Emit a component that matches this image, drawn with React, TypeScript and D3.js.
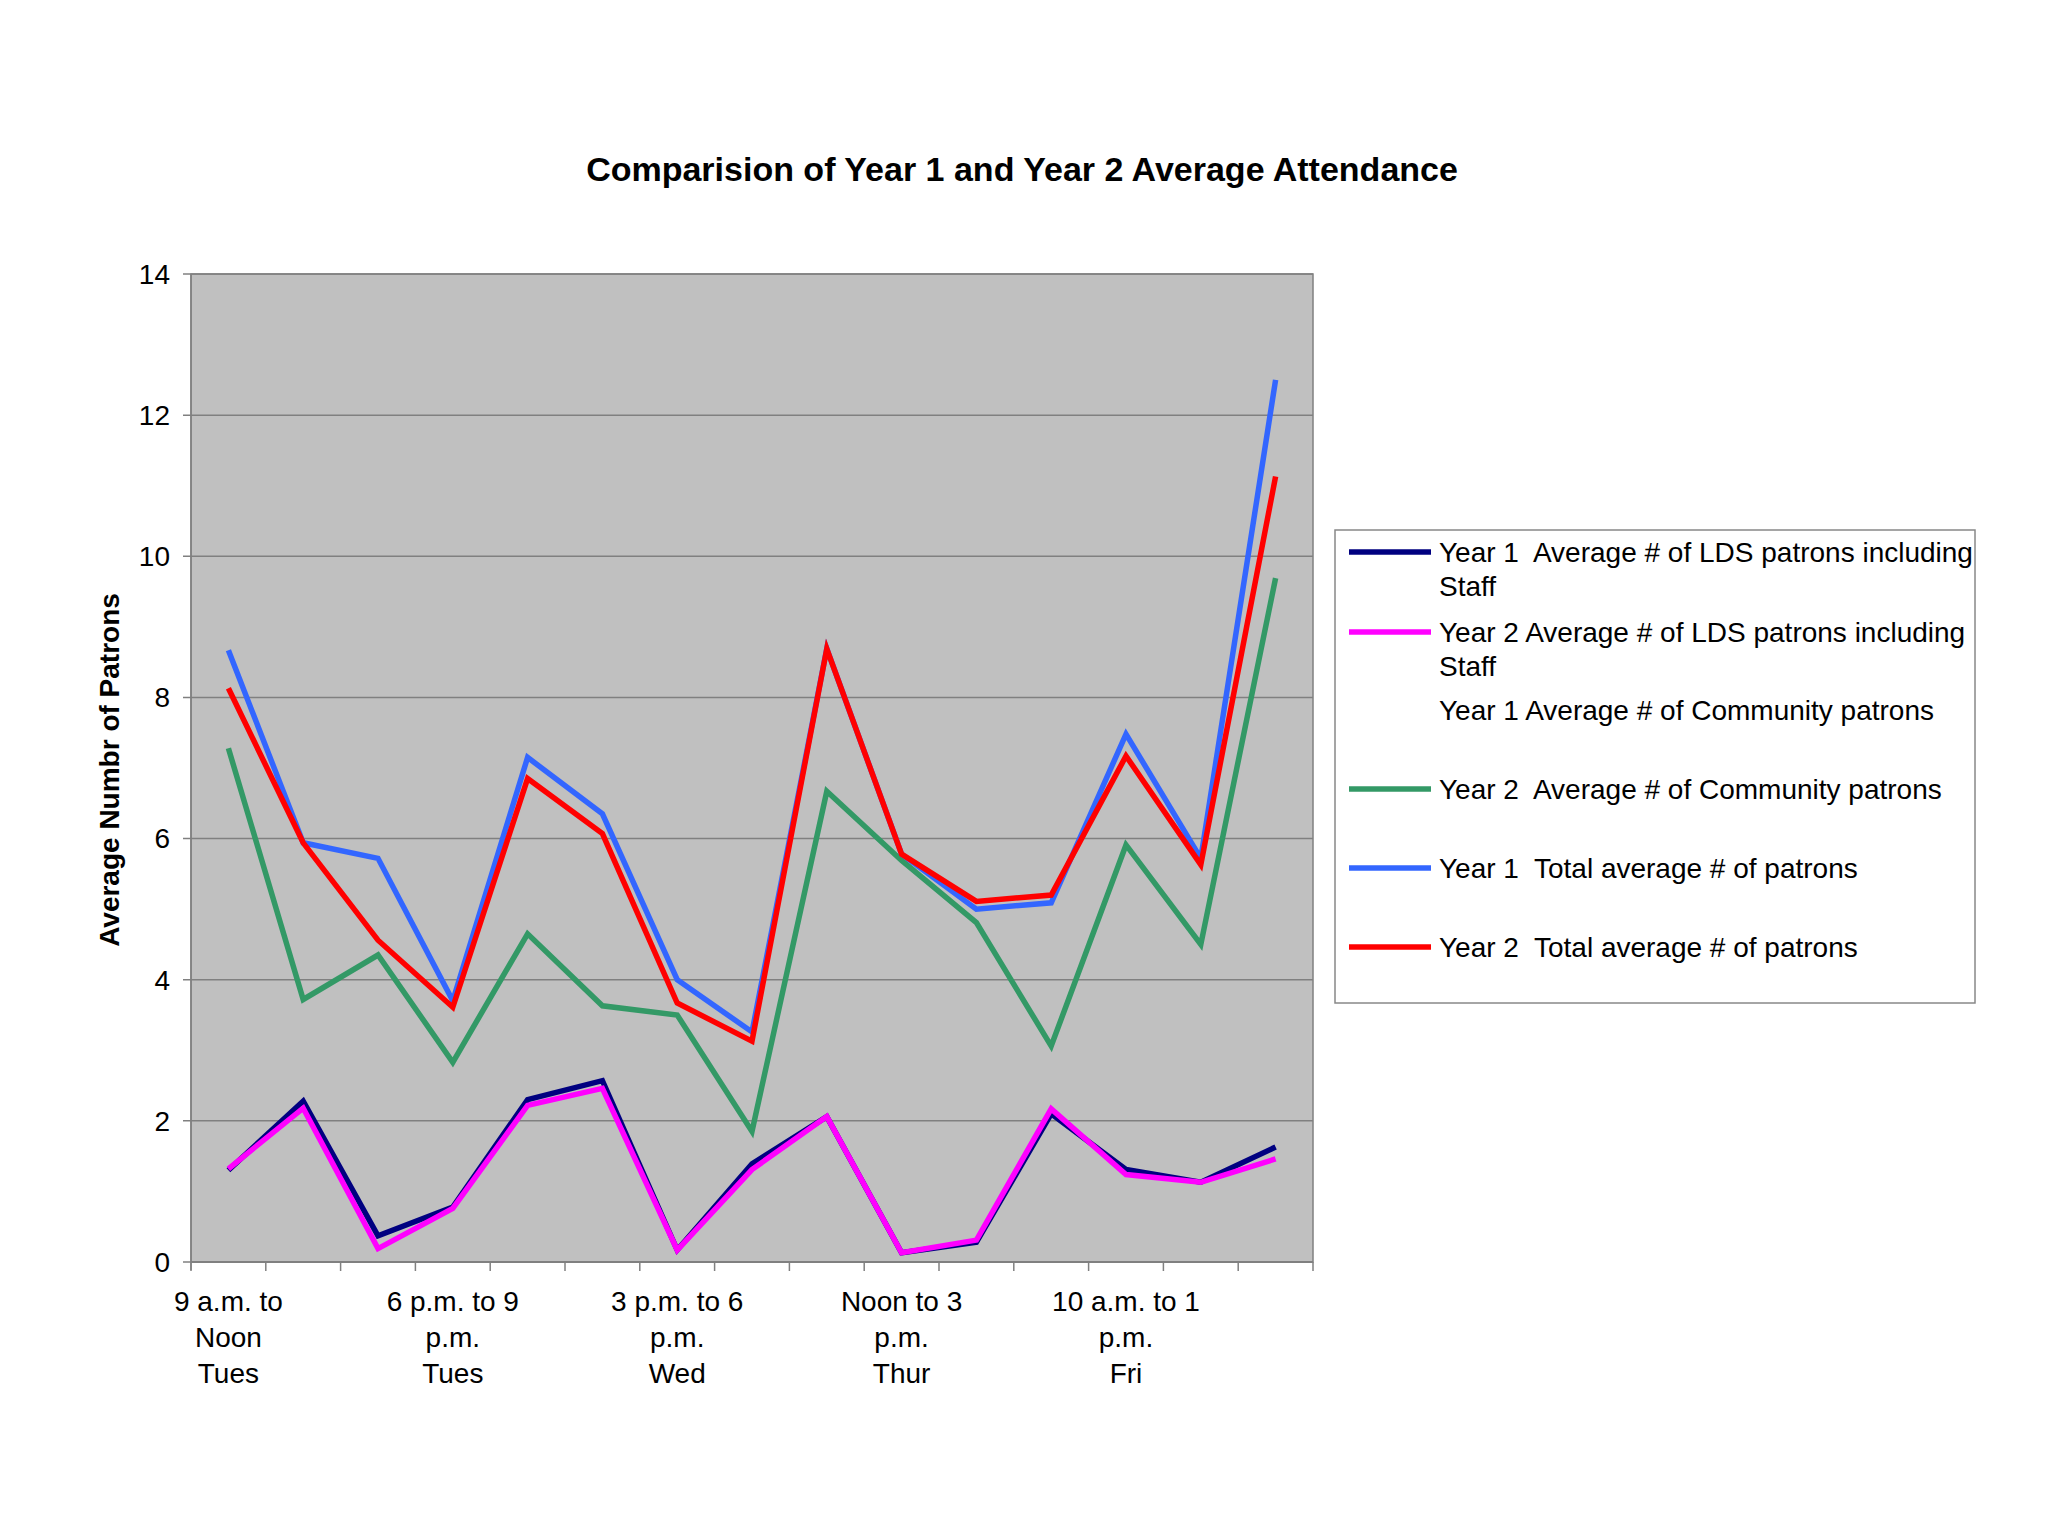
import React from "react";
import * as d3 from "d3";

// category slots (only every third label is printed on the axis)
const categories: string[][] = [
  ["9 a.m. to", "Noon", "Tues"],
  ["Noon to 3", "p.m.", "Tues"],
  ["3 p.m. to 6", "p.m.", "Tues"],
  ["6 p.m. to 9", "p.m.", "Tues"],
  ["9 a.m. to", "Noon", "Wed"],
  ["Noon to 3", "p.m.", "Wed"],
  ["3 p.m. to 6", "p.m.", "Wed"],
  ["6 p.m. to 9", "p.m.", "Wed"],
  ["9 a.m. to", "Noon", "Thur"],
  ["Noon to 3", "p.m.", "Thur"],
  ["3 p.m. to 6", "p.m.", "Thur"],
  ["6 p.m. to 9", "p.m.", "Thur"],
  ["10 a.m. to 1", "p.m.", "Fri"],
  ["1 p.m. to 4", "p.m.", "Fri"],
  ["4 p.m. to 7", "p.m.", "Fri"],
];

const year1Lds = [1.3, 2.28, 0.37, 0.78, 2.3, 2.57, 0.17, 1.39, 2.06, 0.13, 0.28, 2.1, 1.31, 1.13, 1.63];
const year2Lds = [1.32, 2.18, 0.19, 0.76, 2.22, 2.46, 0.17, 1.31, 2.06, 0.13, 0.31, 2.17, 1.24, 1.13, 1.46];
const year2Community = [7.28, 3.72, 4.35, 2.83, 4.65, 3.63, 3.5, 1.85, 6.67, 5.69, 4.81, 3.06, 5.91, 4.5, 9.69];
const year1Total = [8.67, 5.94, 5.72, 3.7, 7.15, 6.35, 4.0, 3.26, 8.69, 5.78, 5.0, 5.09, 7.48, 5.72, 12.5];
const year2Total = [8.13, 5.94, 4.56, 3.61, 6.85, 6.07, 3.67, 3.13, 8.69, 5.78, 5.11, 5.2, 7.17, 5.63, 11.13];

const yTicks = [0, 2, 4, 6, 8, 10, 12, 14];

interface Series {
  name: string[];
  color: string | null;
  values: number[] | null;
}

const series: Series[] = [
  { name: ["Year 1  Average # of LDS patrons including", "Staff"], color: "#000080", values: year1Lds },
  { name: ["Year 2 Average # of LDS patrons including", "Staff"], color: "#FF00FF", values: year2Lds },
  { name: ["Year 1 Average # of Community patrons"], color: null, values: null },
  { name: ["Year 2  Average # of Community patrons"], color: "#339966", values: year2Community },
  { name: ["Year 1  Total average # of patrons"], color: "#3366FF", values: year1Total },
  { name: ["Year 2  Total average # of patrons"], color: "#FF0000", values: year2Total },
];

const W = 2048;
const H = 1536;
const plot = { left: 191, right: 1313, top: 274, bottom: 1262 };
const font = "Arial, 'Liberation Sans', sans-serif";
const fs = 28;

const App: React.FC = () => {
  const x = d3
    .scaleBand<number>()
    .domain(d3.range(categories.length))
    .range([plot.left, plot.right])
    .padding(0);

  const y = d3.scaleLinear().domain([0, 14]).range([plot.bottom, plot.top]);

  const line = d3
    .line<number>()
    .x((_, i) => x(i)! + x.bandwidth() / 2)
    .y((d) => y(d));

  const boundaries = d3.range(categories.length + 1).map((i) => plot.left + i * x.bandwidth());

  // legend rows: y of first text line for each entry
  const legendRows = [552, 632, 710, 789, 868, 947];

  return (
    <svg
      width={W}
      height={H}
      viewBox={`0 0 ${W} ${H}`}
      style={{ position: "absolute", left: 0, top: 0, background: "#fff", fontFamily: font }}
    >
      <rect width={W} height={H} fill="#fff" />

      <text x={1022} y={181} textAnchor="middle" fontSize={34} fontWeight="bold" fill="#000">
        Comparision of Year 1 and Year 2 Average Attendance
      </text>

      {/* plot area */}
      <rect
        x={plot.left}
        y={plot.top}
        width={plot.right - plot.left}
        height={plot.bottom - plot.top}
        fill="#C0C0C0"
        stroke="#808080"
        strokeWidth={1.5}
      />
      {yTicks.map((t) => (
        <g key={t}>
          <line x1={plot.left - 8} x2={plot.right} y1={y(t)} y2={y(t)} stroke="#808080" strokeWidth={1.5} />
          <text x={170} y={y(t)} dy="0.35em" textAnchor="end" fontSize={fs} fill="#000">
            {t}
          </text>
        </g>
      ))}
      <line x1={plot.left} x2={plot.left} y1={plot.top} y2={plot.bottom + 8} stroke="#808080" strokeWidth={1.5} />
      <line x1={plot.left} x2={plot.right} y1={plot.bottom} y2={plot.bottom} stroke="#808080" strokeWidth={2} />
      {boundaries.map((bx, i) => (
        <line key={i} x1={bx} x2={bx} y1={plot.bottom} y2={plot.bottom + 9} stroke="#808080" strokeWidth={1.5} />
      ))}

      {/* x labels, every third category */}
      {categories.map((lines, i) =>
        i % 3 === 0 ? (
          <text key={i} textAnchor="middle" fontSize={fs} fill="#000">
            {lines.map((l, j) => (
              <tspan key={j} x={x(i)! + x.bandwidth() / 2} y={1311 + j * 36}>
                {l}
              </tspan>
            ))}
          </text>
        ) : null
      )}

      <text
        transform={`translate(119, 770) rotate(-90)`}
        textAnchor="middle"
        fontSize={fs}
        fontWeight="bold"
        fill="#000"
      >
        Average Numbr of Patrons
      </text>

      {/* series */}
      {series.map((s, i) =>
        s.values && s.color ? (
          <path
            key={i}
            d={line(s.values)!}
            fill="none"
            stroke={s.color}
            strokeWidth={5.5}
            strokeLinejoin="miter"
          />
        ) : null
      )}

      {/* legend */}
      <rect x={1335} y={530} width={640} height={473} fill="#fff" stroke="#888" strokeWidth={1.5} />
      {series.map((s, i) => (
        <g key={i}>
          {s.color ? (
            <line x1={1349} x2={1431} y1={legendRows[i]} y2={legendRows[i]} stroke={s.color} strokeWidth={5.5} />
          ) : null}
          <text fontSize={fs} fill="#000" style={{ whiteSpace: "pre" }}>
            {s.name.map((n, j) => (
              <tspan key={j} x={1439} y={legendRows[i] + j * 34} dy="0.35em">
                {n}
              </tspan>
            ))}
          </text>
        </g>
      ))}
    </svg>
  );
};

export default App;
